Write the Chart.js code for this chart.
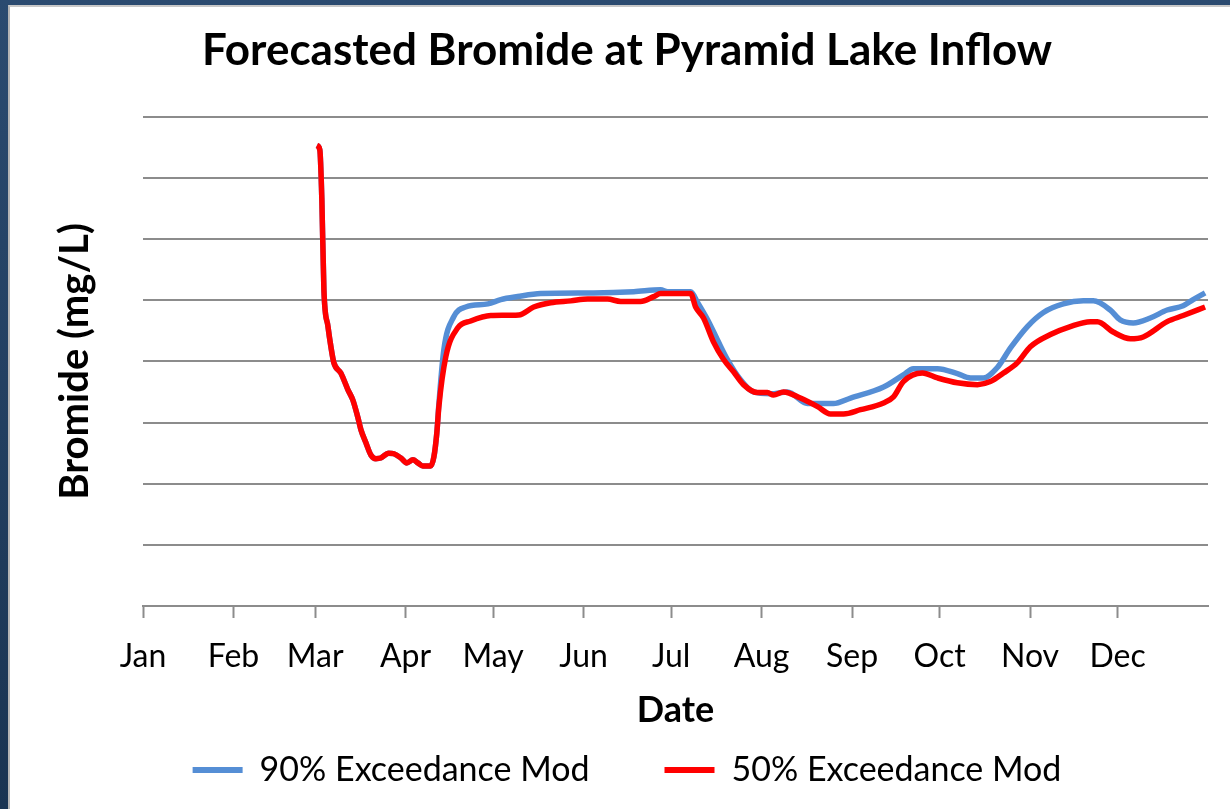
<!DOCTYPE html>
<html>
<head>
<meta charset="utf-8">
<title>Forecasted Bromide at Pyramid Lake Inflow</title>
<script src="https://cdn.jsdelivr.net/npm/chart.js@4.4.1/dist/chart.umd.min.js"></script>
<style>
  html, body { margin: 0; padding: 0; }
  body {
    width: 1230px; height: 809px; overflow: hidden; position: relative;
    background: linear-gradient(180deg, #2b4b70 0%, #1a3452 100%);
  }
  #panel {
    position: absolute; left: 8px; top: 5px; width: 1222px; height: 804px;
    background: #fff; box-sizing: border-box;
    border-left: 2px solid #b5b5b5; border-top: 2px solid #c8c8c8;
  }
  canvas { display: block; }
</style>
</head>
<body>
<div id="panel"><canvas id="bromideChart" width="1220" height="802"></canvas></div>
<script>
// month tick positions (day of year) and their labels
const monthStarts = [0, 31, 59, 90, 120, 151, 181, 212, 243, 273, 304, 334];
const monthLabels = ["Jan", "Feb", "Mar", "Apr", "May", "Jun", "Jul", "Aug", "Sep", "Oct", "Nov", "Dec"];

// 90% exceedance (day of year, mg/L)
const days90 = [59.6, 60.6, 61.3, 62.0, 63.4, 64.4, 65.4, 67.8, 70.2, 71.9, 73.6, 74.7, 76.4, 78.1, 79.8,
  81.5, 84.2, 86.0, 88.4, 90.4, 92.5, 94.2, 95.9, 98.6, 99.7, 100.7, 101.4, 103.1, 106.5, 110.6, 118.2,
  122.6, 128.4, 136.3, 154.5, 168.2, 177.4, 179.8, 187.7, 190.1, 193.5, 196.9, 200.3, 204.8, 209.2,
  215.1, 220.9, 227.7, 236.6, 242.5, 253.8, 260.6, 264.0, 272.3, 279.1, 283.6, 288.0, 292.8, 297.3,
  303.1, 308.6, 315.4, 322.3, 325.7, 331.5, 334.9, 339.4, 345.2, 351.0, 356.5, 359.9, 364.0];
const bromide90 = [0.753, 0.746, 0.664, 0.517, 0.457, 0.424, 0.398, 0.381, 0.354, 0.337, 0.309, 0.288, 0.267, 0.247, 0.241,
  0.242, 0.250, 0.249, 0.242, 0.234, 0.239, 0.234, 0.229, 0.229, 0.244, 0.283, 0.330, 0.419, 0.473, 0.489, 0.494,
  0.501, 0.506, 0.511, 0.512, 0.514, 0.517, 0.514, 0.514, 0.496, 0.468, 0.435, 0.403, 0.370, 0.350,
  0.347, 0.350, 0.331, 0.331, 0.340, 0.358, 0.378, 0.388, 0.388, 0.380, 0.373, 0.373, 0.390, 0.422,
  0.457, 0.480, 0.494, 0.499, 0.499, 0.484, 0.468, 0.463, 0.471, 0.484, 0.491, 0.501, 0.512];

// 50% exceedance (day of year, mg/L)
const days50 = [59.6, 60.6, 61.3, 62.0, 63.4, 64.4, 65.4, 67.8, 70.2, 71.9, 73.6, 74.7, 76.4, 78.1, 79.8,
  81.5, 84.2, 86.0, 88.4, 90.4, 92.5, 94.2, 95.9, 98.6, 99.7, 100.7, 101.4, 103.8, 107.9, 112.3, 119.2,
  128.8, 133.9, 139.7, 146.6, 152.4, 159.2, 163.7, 170.5, 175.0, 177.4, 187.7, 189.4, 192.1, 195.5,
  199.0, 202.4, 205.8, 210.6, 214.0, 216.1, 219.5, 225.3, 231.2, 235.6, 240.1, 245.9, 253.8, 257.2,
  260.6, 267.1, 272.3, 279.1, 286.0, 290.4, 294.9, 299.7, 304.1, 311.0, 317.8, 324.7, 327.1, 332.5,
  338.4, 342.8, 351.0, 356.5, 364.0];
const bromide50 = [0.753, 0.746, 0.664, 0.517, 0.457, 0.424, 0.398, 0.381, 0.354, 0.337, 0.309, 0.288, 0.267, 0.247, 0.241,
  0.242, 0.250, 0.249, 0.242, 0.234, 0.239, 0.234, 0.229, 0.229, 0.244, 0.283, 0.326, 0.408, 0.455, 0.466, 0.475,
  0.476, 0.489, 0.496, 0.499, 0.502, 0.502, 0.498, 0.498, 0.506, 0.511, 0.511, 0.489, 0.471, 0.432,
  0.403, 0.383, 0.362, 0.349, 0.349, 0.345, 0.350, 0.340, 0.326, 0.314, 0.314, 0.321, 0.332, 0.342,
  0.367, 0.381, 0.373, 0.365, 0.362, 0.367, 0.381, 0.398, 0.424, 0.444, 0.457, 0.465, 0.465, 0.448,
  0.437, 0.440, 0.465, 0.475, 0.489];

const toPoints = (xs, ys) => xs.map((x, i) => ({ x: x, y: ys[i] }));

const gridGray = "#8c8c8c";
const font = "Lato, Calibri, 'Open Sans', sans-serif";

new Chart(document.getElementById("bromideChart"), {
  type: "line",
  data: {
    datasets: [
      {
        label: "90% Exceedance Mod",
        data: toPoints(days90, bromide90),
        borderColor: "#558ed5",
        backgroundColor: "#558ed5",
        borderWidth: 5.5,
        pointRadius: 0,
        cubicInterpolationMode: "monotone",
        order: 2,
      },
      {
        label: "50% Exceedance Mod",
        data: toPoints(days50, bromide50),
        borderColor: "#ff0000",
        backgroundColor: "#ff0000",
        borderWidth: 5.5,
        pointRadius: 0,
        cubicInterpolationMode: "monotone",
        order: 1,
      },
    ],
  },
  options: {
    responsive: false,
    animation: false,
    layout: { padding: { left: 36, right: 22, top: 0, bottom: 12 } },
    plugins: {
      title: {
        display: true,
        text: "Forecasted Bromide at Pyramid Lake Inflow",
        color: "#000",
        font: { family: font, size: 44, weight: "bold" },
        padding: { top: 17, bottom: 40 },
      },
      legend: {
        position: "bottom",
        labels: {
          color: "#000",
          font: { family: font, size: 34 },
          boxWidth: 50,
          boxHeight: 6,
          padding: 75,
          sort: (a, b) => a.datasetIndex - b.datasetIndex,
          generateLabels: (chart) =>
            Chart.defaults.plugins.legend.labels.generateLabels(chart).map((l) => ({ ...l, lineWidth: 0 })),
        },
      },
      tooltip: { enabled: false },
    },
    scales: {
      x: {
        type: "linear",
        min: 0,
        max: 365,
        afterBuildTicks: (scale) => {
          scale.ticks = monthStarts.map((v) => ({ value: v }));
        },
        afterFit: (scale) => {
          scale.height = 72;
        },
        ticks: {
          autoSkip: false,
          maxRotation: 0,
          color: "#000",
          font: { family: font, size: 32, lineHeight: 1 },
          padding: 23,
          callback: (value) => monthLabels[monthStarts.indexOf(value)],
        },
        grid: {
          drawOnChartArea: false,
          drawTicks: true,
          tickLength: 12,
          tickWidth: 2,
          tickColor: gridGray,
        },
        border: { display: true, color: gridGray, width: 2 },
        title: {
          display: true,
          text: "Date",
          color: "#000",
          font: { family: font, size: 36, weight: "bold" },
          padding: { top: 0, bottom: -54 },
        },
      },
      y: {
        min: 0,
        max: 0.8,
        afterFit: (scale) => {
          scale.width = 97;
        },
        ticks: { display: false, stepSize: 0.1 },
        grid: { color: gridGray, lineWidth: 2, drawTicks: false },
        border: { display: false },
        title: {
          display: true,
          text: "Bromide (mg/L)",
          color: "#000",
          font: { family: font, size: 40, weight: "bold" },
          padding: { top: 5, bottom: 0 },
        },
      },
    },
  },
});
</script>
</body>
</html>
